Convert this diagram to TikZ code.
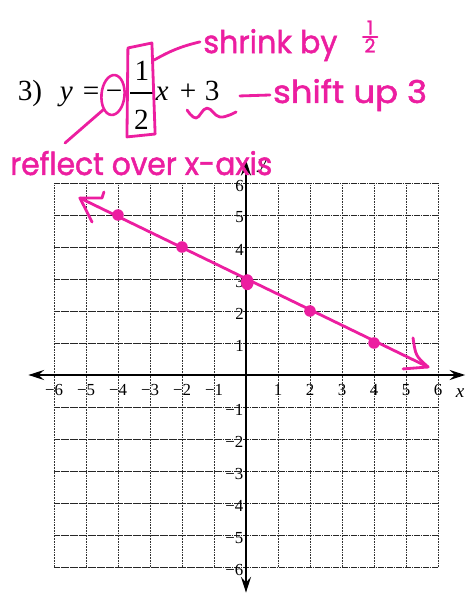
\documentclass[tikz,border=0pt]{standalone}
\usepackage{fontspec}
\usepackage{graphicx}
\setmainfont{Liberation Serif}
\newfontfamily\hand[FakeBold=1.6]{Poppins}
\usetikzlibrary{arrows.meta,shapes.geometric}
\definecolor{pen}{RGB}{236,30,160}
\begin{document}
\begin{tikzpicture}[
  hgrid/.style={black!85, line width=0.75pt, dash pattern=on 1.6pt off 0.4pt},
  vgrid/.style={black!80, line width=0.65pt, dash pattern=on 0.8pt off 0.6pt},
  axis/.style={line width=1.5pt, arrows={Stealth[length=14pt,width=9pt,inset=5pt]-Stealth[length=14pt,width=9pt,inset=5pt]}},
  tick/.style={font=\fontsize{15}{17}\selectfont, inner sep=0pt},
  axlab/.style={font=\fontsize{17}{19}\selectfont\itshape, inner sep=0pt},
  eq/.style={font=\fontsize{26}{30}\selectfont, inner sep=0pt, anchor=base},
  marker/.style={pen, line width=2.5pt, line cap=round, line join=round},
  hw/.style={pen, font=\hand\fontsize{28}{32}\selectfont, inner sep=0pt, anchor=base west},
  hwsmall/.style={pen, font=\hand\fontsize{17}{19}\selectfont, inner sep=0pt},
  ptdot/.style={ellipse, fill=pen, inner sep=0pt, minimum width=0.36cm, minimum height=0.36cm},
]
\useasboundingbox (-7.6875,-6.84375) rectangle (6.875,11.71875);

% graph paper
\foreach \k in {-6,...,6} {
  \draw[vgrid] (\k,-6) -- (\k,6);
  \draw[hgrid] (-6,\k) -- (6,\k);
}

% axes
\coordinate (xl) at (-6.8,0);
\coordinate (xr) at (6.85,0);
\coordinate (yt) at (0,6.72);
\coordinate (yb) at (0,-6.8);
\draw[axis] (xl) -- (xr);
\draw[axis] (yb) -- (yt);
\node[axlab] (xlab) at (6.69,-0.56) {x};
\node[axlab] (ylab) at (0.52,6.52) {y};

% tick labels
\foreach \k in {1,...,6} {
  \node[tick, anchor=east] (yp\k) at (-0.06,\k-0.08) {\k};
  \node[tick, anchor=east] (yn\k) at (-0.08,-\k-0.08) {−\k};
  \node[tick] (xp\k) at (\k,-0.47) {\k};
  \node[tick] (xn\k) at (-\k,-0.47) {−\k};
}

% equation
\node[eq] (num) at (-6.75,8.5625) {3)};
\node[eq] (yv) at (-5.61,8.5625) {\textit{y}};
\node[eq] (eqs) at (-4.84,8.5625) {=};
\node[eq] (mn) at (-4.125,8.5625) {−};
\node[eq] (one) at (-3.25,9.19) {1};
\node[eq] (two) at (-3.27,7.66) {2};
\coordinate (bl) at (-3.62,8.81);
\coordinate (br) at (-2.88,8.81);
\draw[line width=1.1pt] (bl) -- (br);
\node[eq] (xv) at (-2.625,8.5625) {\textit{x}};
\node[eq] (plus) at (-1.81,8.5625) {+};
\node[eq] (three) at (-1.06,8.5625) {3};

% annotations
\node[draw=pen, line width=2.3pt, ellipse, minimum width=0.72cm, minimum height=1.25cm, rotate=-5] (circ) at (-4.156,8.75) {};
\coordinate (bTL) at (-3.69,10.22);
\coordinate (bTR) at (-2.94,10.375);
\coordinate (bBR) at (-2.84,7.53);
\coordinate (bBL) at (-3.72,7.44);
\draw[marker] (bTL) -- (bTR) -- (bBR) -- (bBL) -- cycle;

\coordinate (bx) at (-2.875,9.84);
\coordinate (sh) at (-1.44,10.41);
\draw[marker] (bx) to[bend left=8] (sh);
\node[hw] (t1) at (-1.34,10.06) {\resizebox{4.19cm}{\height}{shrink by}};
\node[hwsmall] (h1) at (3.875,10.86) {1};
\node[hwsmall] (h2) at (3.875,10.3) {2};
\coordinate (hl) at (3.66,10.57);
\coordinate (hr) at (4.1,10.57);
\draw[marker, line width=2.2pt] (hl) -- (hr);

\coordinate (c1) at (-4.47,8.28);
\coordinate (c2) at (-5.656,7.25);
\draw[marker] (c1) -- (c2);
\node[hw] (t3) at (-7.375,6.25) {\resizebox{8.19cm}{\height}{reflect over x-axis}};

\draw[marker] plot[smooth, tension=0.7] coordinates {(-1.84,8.28) (-1.56,8.03) (-1.22,8.34) (-0.81,8.06) (-0.31,8.22)};
\coordinate (d1) at (-0.19,8.72);
\coordinate (d2) at (0.75,8.75);
\draw[marker] (d1) -- (d2);
\node[hw] (t2) at (0.84,8.5) {\resizebox{4.81cm}{\height}{shift up 3}};

% the line
\coordinate (lt) at (-5.19,5.53);
\coordinate (rt) at (5.69,0.25);
\draw[marker] (lt) -- (rt);
\coordinate (la) at (-4.5,5.53);
\coordinate (lb) at (-4.44,5.72);
\coordinate (lc) at (-4.81,4.78);
\draw[marker] (lb) -- (la) -- (lt) -- (lc);
\coordinate (ra) at (5.22,1.16);
\coordinate (rb) at (4.91,0.19);
\draw[marker] (ra) .. controls (5.3,0.6) .. (rt);
\draw[marker] (rb) -- (rt);

\node[ptdot] (p1) at (-4,5) {};
\node[ptdot] (p2) at (-2,4) {};
\node[ptdot, minimum width=0.4cm, minimum height=0.5cm] (p3) at (0.04,2.9) {};
\node[ptdot] (p4) at (2,2) {};
\node[ptdot] (p5) at (4,1) {};
\end{tikzpicture}
\end{document}
